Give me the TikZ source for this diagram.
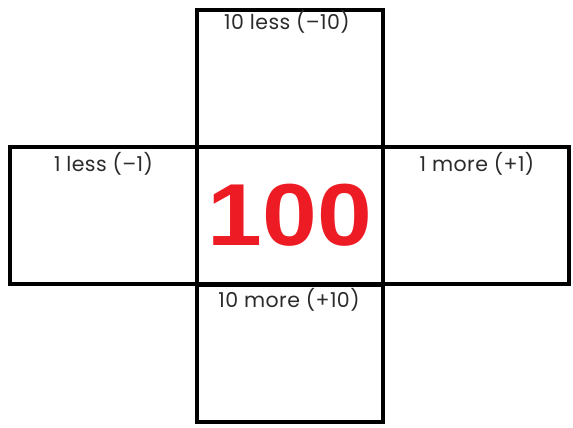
\documentclass[tikz,border=0pt]{standalone}
\usepackage{fontspec}
\setmainfont{Poppins}[LetterSpace=2]
\newfontfamily\numfont{Liberation Sans}[FakeStretch=1.12]
\definecolor{txtgray}{HTML}{2B2B2B}
\definecolor{bigred}{HTML}{ED1C24}
\begin{document}
\begin{tikzpicture}[x=1pt,y=-1pt,
  cell/.style={draw=black,line width=4pt,rectangle,inner sep=0pt,minimum width=186pt,minimum height=137pt},
  lbl/.style={anchor=base,inner sep=0pt,text=txtgray,font=\fontsize{20.5}{22}\selectfont}]
\useasboundingbox (0,0) rectangle (573,428);
\node[cell] (top) at (290,78.5) {};
\node[cell] (bot) at (290,353) {};
\node[cell,minimum width=187pt] (left) at (103.5,215.5) {};
\node[cell] (right) at (476,215.5) {};
\node[cell] (mid) at (290,215.5) {};
\node[lbl] (tl) at (287,29.5) {10 less (–10)};
\node[lbl] (ll) at (103.5,171.5) {1 less (–1)};
\node[lbl] (rl) at (477,171.5) {1 more (+1)};
\node[lbl] (bl) at (289,307.5) {10 more (+10)};
\node[anchor=base,inner sep=0pt,text=bigred,font=\numfont\bfseries\fontsize{88}{88}\selectfont] (num) at (290,245) {100};
\end{tikzpicture}
\end{document}
